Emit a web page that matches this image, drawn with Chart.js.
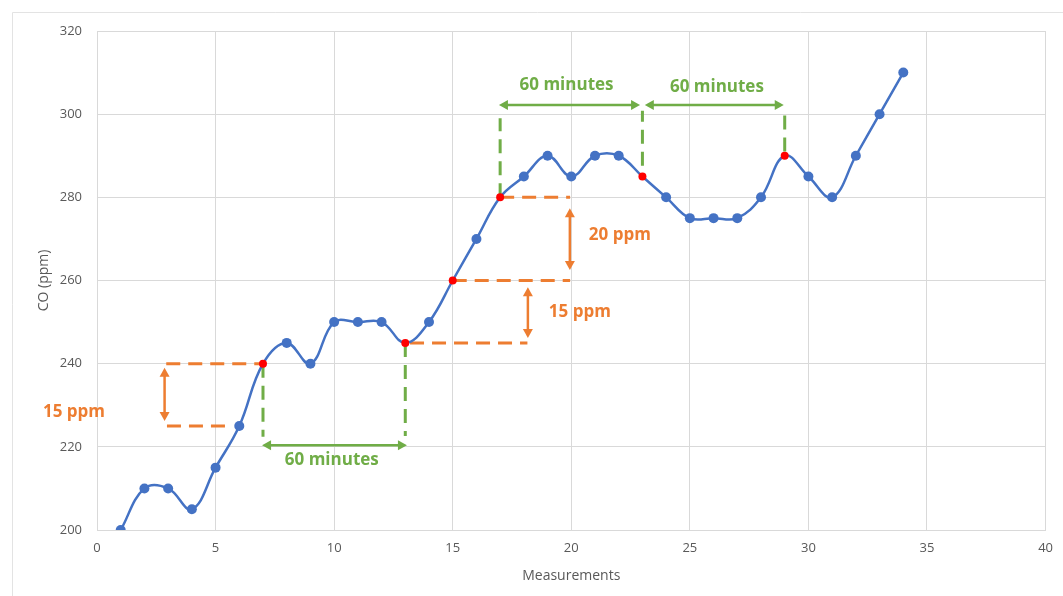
<!DOCTYPE html>
<html>
<head>
<meta charset="utf-8">
<script src="https://cdn.jsdelivr.net/npm/chart.js@4/dist/chart.umd.min.js"></script>
<style>
  html, body { margin: 0; padding: 0; background: #fff; }
  #wrap { width: 1063px; height: 596px; position: relative; }
</style>
</head>
<body>
<div id="wrap"><canvas id="graficoCO"></canvas></div>
<script>
const measurements = [1, 2, 3, 4, 5, 6, 7, 8, 9, 10, 11, 12, 13, 14, 15, 16, 17,
                      18, 19, 20, 21, 22, 23, 24, 25, 26, 27, 28, 29, 30, 31, 32, 33, 34];
const coPpm = [200, 210, 210, 205, 215, 225, 240, 245, 240, 250, 250, 250, 245, 250, 260, 270, 280,
               285, 290, 285, 290, 290, 285, 280, 275, 275, 275, 280, 290, 285, 280, 290, 300, 310];
const markedPoints = [7, 13, 15, 17, 23, 29];

// annotation marks in data units: [x1, y1, x2, y2]
const orangeDashes = [[2.92, 240, 7, 240], [2.95, 225, 5.55, 225], [13.2, 245, 18.15, 245],
                      [15, 260, 19.95, 260], [17, 280, 19.95, 280]];
const greenDashes = [[7, 240, 7, 222.4], [13, 245, 13, 222.6], [17, 280, 17, 299],
                     [23, 287.6, 23, 300.8], [29, 291, 29, 300.8]];
const orangeArrows = [[2.85, 239, 2.85, 226.2], [18.17, 258.4, 18.17, 246.2], [19.94, 277.4, 19.94, 262.5]];
const greenArrows = [[6.96, 220.4, 13.07, 220.4], [16.95, 302.2, 22.9, 302.2], [23.1, 302.2, 28.96, 302.2]];
const orangeLabels = [['15 ppm', -0.97, 228.3], ['15 ppm', 20.36, 252.4], ['20 ppm', 22.05, 270.9]];
const greenLabels = [['60 minutes', 9.9, 216.8], ['60 minutes', 19.8, 307], ['60 minutes', 26.14, 306.5]];

const BLUE = '#4472C4';
const ORANGE = '#ED7D31';
const GREEN = '#70AD47';
const RED = '#FF0000';

const points = measurements.map((m, i) => ({ x: m, y: coPpm[i] }));
const isMarked = ctx => markedPoints.includes(measurements[ctx.dataIndex]);

function drawArrowHead(ctx, x, y, ang, color) {
    const len = 9, half = 5;
    ctx.save();
    ctx.translate(x, y);
    ctx.rotate(ang);
    ctx.fillStyle = color;
    ctx.beginPath();
    ctx.moveTo(0, 0);
    ctx.lineTo(-len, -half);
    ctx.lineTo(-len, half);
    ctx.closePath();
    ctx.fill();
    ctx.restore();
}

const annotationPlugin = {
    id: 'marcas',
    beforeDraw(chart) {
        const ctx = chart.ctx;
        ctx.save();
        ctx.strokeStyle = '#E3E3E3';
        ctx.lineWidth = 1;
        ctx.beginPath();
        ctx.moveTo(12.5, chart.height);
        ctx.lineTo(12.5, 12.5);
        ctx.lineTo(chart.width, 12.5);
        ctx.stroke();
        ctx.restore();
    },
    beforeDatasetsDraw(chart) {
        const ctx = chart.ctx;
        const xs = chart.scales.x, ys = chart.scales.y;
        const px = v => xs.getPixelForValue(v);
        const py = v => ys.getPixelForValue(v);

        ctx.save();
        ctx.lineWidth = 3;
        ctx.setLineDash([14, 8]);
        ctx.strokeStyle = ORANGE;
        orangeDashes.forEach(d => {
            ctx.beginPath();
            ctx.moveTo(px(d[0]), py(d[1]));
            ctx.lineTo(px(d[2]), py(d[3]));
            ctx.stroke();
        });
        ctx.strokeStyle = GREEN;
        greenDashes.forEach(d => {
            ctx.beginPath();
            ctx.moveTo(px(d[0]), py(d[1]));
            ctx.lineTo(px(d[2]), py(d[3]));
            ctx.stroke();
        });
        ctx.setLineDash([]);

        ctx.lineWidth = 2.5;
        [[orangeArrows, ORANGE], [greenArrows, GREEN]].forEach(([list, color]) => {
            list.forEach(a => {
                const x1 = px(a[0]), y1 = py(a[1]), x2 = px(a[2]), y2 = py(a[3]);
                const ang = Math.atan2(y2 - y1, x2 - x1);
                ctx.strokeStyle = color;
                ctx.beginPath();
                ctx.moveTo(x1 + 6 * Math.cos(ang), y1 + 6 * Math.sin(ang));
                ctx.lineTo(x2 - 6 * Math.cos(ang), y2 - 6 * Math.sin(ang));
                ctx.stroke();
                drawArrowHead(ctx, x2, y2, ang, color);
                drawArrowHead(ctx, x1, y1, ang + Math.PI, color);
            });
        });

        ctx.font = 'bold 17px "Open Sans"';
        ctx.textAlign = 'center';
        ctx.textBaseline = 'middle';
        ctx.fillStyle = ORANGE;
        orangeLabels.forEach(l => ctx.fillText(l[0], px(l[1]), py(l[2])));
        ctx.fillStyle = GREEN;
        greenLabels.forEach(l => ctx.fillText(l[0], px(l[1]), py(l[2])));
        ctx.restore();
    }
};

new Chart(document.getElementById('graficoCO').getContext('2d'), {
    type: 'scatter',
    data: {
        datasets: [{
            label: 'CO',
            data: points,
            showLine: true,
            borderColor: BLUE,
            borderWidth: 2.5,
            tension: 0.4,
            pointRadius: ctx => isMarked(ctx) ? 4 : 5,
            pointBackgroundColor: ctx => isMarked(ctx) ? RED : BLUE,
            pointBorderColor: ctx => isMarked(ctx) ? RED : BLUE,
            pointBorderWidth: 0
        }]
    },
    options: {
        responsive: true,
        maintainAspectRatio: false,
        animation: false,
        layout: { padding: { left: 20, top: 31, right: 17, bottom: 8 } },
        scales: {
            x: {
                type: 'linear',
                min: 0,
                max: 40,
                ticks: { stepSize: 5, color: '#595959', padding: 10, font: { family: 'Open Sans', size: 13 } },
                grid: { color: '#D9D9D9', drawTicks: false },
                border: { color: '#D9D9D9' },
                title: { display: true, text: 'Measurements', color: '#595959', padding: { top: 4, bottom: 4 },
                         font: { family: 'Open Sans', size: 14 } },
                afterFit: s => { s.height = 596 - 530 - 8; }
            },
            y: {
                min: 200,
                max: 320,
                ticks: { stepSize: 20, color: '#595959', padding: 15, font: { family: 'Open Sans', size: 13 } },
                grid: { color: '#D9D9D9', drawTicks: false },
                border: { color: '#D9D9D9' },
                title: { display: true, text: 'CO (ppm)', color: '#595959', padding: { top: 16, bottom: 0 },
                         font: { family: 'Open Sans', size: 14 } },
                afterFit: s => { s.width = 97 - 20; }
            }
        },
        plugins: {
            legend: { display: false },
            tooltip: { enabled: false }
        }
    },
    plugins: [annotationPlugin]
});
</script>
</body>
</html>
